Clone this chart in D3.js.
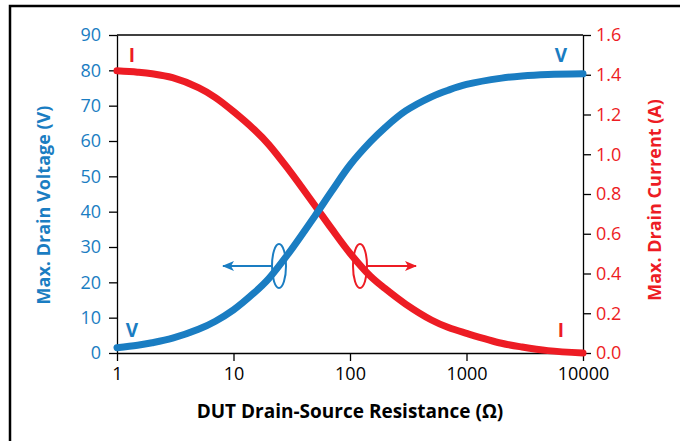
<!DOCTYPE html>
<html>
<head>
<meta charset="utf-8">
<script src="https://cdn.jsdelivr.net/npm/d3@7"></script>
<style>
  body { margin: 0; background: #fff; }
  text { font-family: 'Open Sans', sans-serif; }
</style>
</head>
<body>
<svg width="680" height="441"></svg>
<script>
// data
const resistance = [1, 1.5, 2, 3, 5, 7, 10, 15, 20, 30, 50, 70, 100, 150, 200, 300, 500, 700, 1000, 2000, 3000, 5000, 10000];
const voltage = [1.5, 2.2, 2.9, 4.2, 6.7, 9.0, 12.2, 17.0, 21.0, 28.4, 38.8, 45.9, 53.2, 59.8, 63.8, 68.5, 72.5, 74.4, 76.0, 77.8, 78.4, 78.8, 79.0];
const current = [1.42, 1.413, 1.405, 1.385, 1.335, 1.285, 1.215, 1.125, 1.05, 0.92, 0.742, 0.623, 0.502, 0.386, 0.324, 0.246, 0.166, 0.128, 0.099, 0.049, 0.030, 0.012, 0.0];
const xTicks = [1, 10, 100, 1000, 10000];
const vTicks = [0, 10, 20, 30, 40, 50, 60, 70, 80, 90];
const iTicks = [0, 0.2, 0.4, 0.6, 0.8, 1.0, 1.2, 1.4, 1.6];

const BLUE = '#1a7dc2';
const RED = '#ed1c24';

const svg = d3.select('svg');
const width = +svg.attr('width');
const height = +svg.attr('height');

// outer frame: only its top and left edges fall inside the picture
svg.append('path')
  .attr('d', `M10,${height} V6 H${width}`)
  .attr('fill', 'none').attr('stroke', '#000').attr('stroke-width', 2.5);

const margin = { top: 35, left: 117, right: 97, bottom: 88 };
const innerWidth = width - margin.left - margin.right;
const innerHeight = height - margin.top - margin.bottom;

const g = svg.append('g')
  .attr('transform', `translate(${margin.left},${margin.top})`);

const xScale = d3.scaleLog().domain([1, 10000]).range([0, innerWidth]);
const vScale = d3.scaleLinear().domain([0, 90]).range([innerHeight, 0]);
const iScale = d3.scaleLinear().domain([0, 1.6]).range([innerHeight, 0]);

// top border of plot box
g.append('line')
  .attr('x1', 0).attr('x2', innerWidth)
  .attr('y1', 0).attr('y2', 0)
  .attr('stroke', '#000').attr('stroke-width', 1.3);

const styleAxis = (sel, color) => {
  sel.attr('font-family', null).attr('font-size', null);
  sel.selectAll('path').attr('stroke', '#000').attr('stroke-width', 1.3);
  sel.selectAll('.tick line').attr('stroke', '#000').attr('stroke-width', 1.3);
  sel.selectAll('.tick text')
    .attr('fill', color)
    .style('font-size', '18px');
};

const xAxisG = g.append('g')
  .attr('transform', `translate(0,${innerHeight})`)
  .call(d3.axisBottom(xScale).tickValues(xTicks).tickFormat(d3.format('d'))
    .tickSize(8).tickSizeOuter(0).tickPadding(6));
styleAxis(xAxisG, '#000');

const vAxisG = g.append('g')
  .call(d3.axisLeft(vScale).tickValues(vTicks).tickSize(8).tickSizeOuter(0).tickPadding(8));
styleAxis(vAxisG, BLUE);

const iAxisG = g.append('g')
  .attr('transform', `translate(${innerWidth},0)`)
  .call(d3.axisRight(iScale).tickValues(iTicks).tickFormat(d3.format('.1f'))
    .tickSize(8).tickSizeOuter(0).tickPadding(5));
styleAxis(iAxisG, RED);

// curves
const rows = resistance.map((r, k) => ({ r, v: voltage[k], i: current[k] }));

g.append('path')
  .datum(rows)
  .attr('fill', 'none')
  .attr('stroke', RED)
  .attr('stroke-width', 7)
  .attr('stroke-linecap', 'round')
  .attr('d', d3.line().curve(d3.curveCatmullRom.alpha(0.5))
    .x(d => xScale(d.r)).y(d => iScale(d.i)));

g.append('path')
  .datum(rows)
  .attr('fill', 'none')
  .attr('stroke', BLUE)
  .attr('stroke-width', 7)
  .attr('stroke-linecap', 'round')
  .attr('d', d3.line().curve(d3.curveCatmullRom.alpha(0.5))
    .x(d => xScale(d.r)).y(d => vScale(d.v)));

// ellipse + arrow markers
const defs = svg.append('defs');
[['blueHead', BLUE], ['redHead', RED]].forEach(([id, c]) => {
  defs.append('marker')
    .attr('id', id)
    .attr('viewBox', '0 0 12 10')
    .attr('refX', 11).attr('refY', 5)
    .attr('markerWidth', 12).attr('markerHeight', 10)
    .attr('markerUnits', 'userSpaceOnUse')
    .attr('orient', 'auto')
    .append('path')
    .attr('d', 'M0,0 L12,5 L0,10 L3,5 Z')
    .attr('fill', c);
});

const markY = 266 - margin.top;
const blueX = 279 - margin.left;
const redX = 360 - margin.left;

g.append('ellipse')
  .attr('cx', blueX).attr('cy', markY).attr('rx', 7).attr('ry', 22)
  .attr('fill', 'none').attr('stroke', BLUE).attr('stroke-width', 2);
g.append('line')
  .attr('x1', blueX - 6).attr('x2', blueX - 56)
  .attr('y1', markY).attr('y2', markY)
  .attr('stroke', BLUE).attr('stroke-width', 2)
  .attr('marker-end', 'url(#blueHead)');

g.append('ellipse')
  .attr('cx', redX).attr('cy', markY).attr('rx', 7).attr('ry', 22)
  .attr('fill', 'none').attr('stroke', RED).attr('stroke-width', 2);
g.append('line')
  .attr('x1', redX + 6).attr('x2', redX + 56)
  .attr('y1', markY).attr('y2', markY)
  .attr('stroke', RED).attr('stroke-width', 2)
  .attr('marker-end', 'url(#redHead)');

// curve tags
const tag = (x, y, t, c) => svg.append('text')
  .attr('x', x).attr('y', y)
  .attr('text-anchor', 'middle')
  .attr('fill', c)
  .style('font-size', '19px')
  .style('font-weight', 'bold')
  .text(t);
tag(132, 62, 'I', RED);
tag(561, 62, 'V', BLUE);
tag(132, 337, 'V', BLUE);
tag(561, 337, 'I', RED);

// axis titles
svg.append('text')
  .attr('text-anchor', 'middle')
  .attr('transform', 'translate(50,205) rotate(-90)')
  .attr('fill', BLUE)
  .style('font-size', '18px')
  .style('font-weight', 'bold')
  .text('Max. Drain Voltage (V)');

svg.append('text')
  .attr('text-anchor', 'middle')
  .attr('transform', 'translate(661,200) rotate(-90)')
  .attr('fill', RED)
  .style('font-size', '18px')
  .style('font-weight', 'bold')
  .text('Max. Drain Current (A)');

svg.append('text')
  .attr('text-anchor', 'middle')
  .attr('x', 350).attr('y', 418)
  .attr('fill', '#000')
  .style('font-size', '19px')
  .style('font-weight', 'bold')
  .text('DUT Drain-Source Resistance (Ω)');
</script>
</body>
</html>
